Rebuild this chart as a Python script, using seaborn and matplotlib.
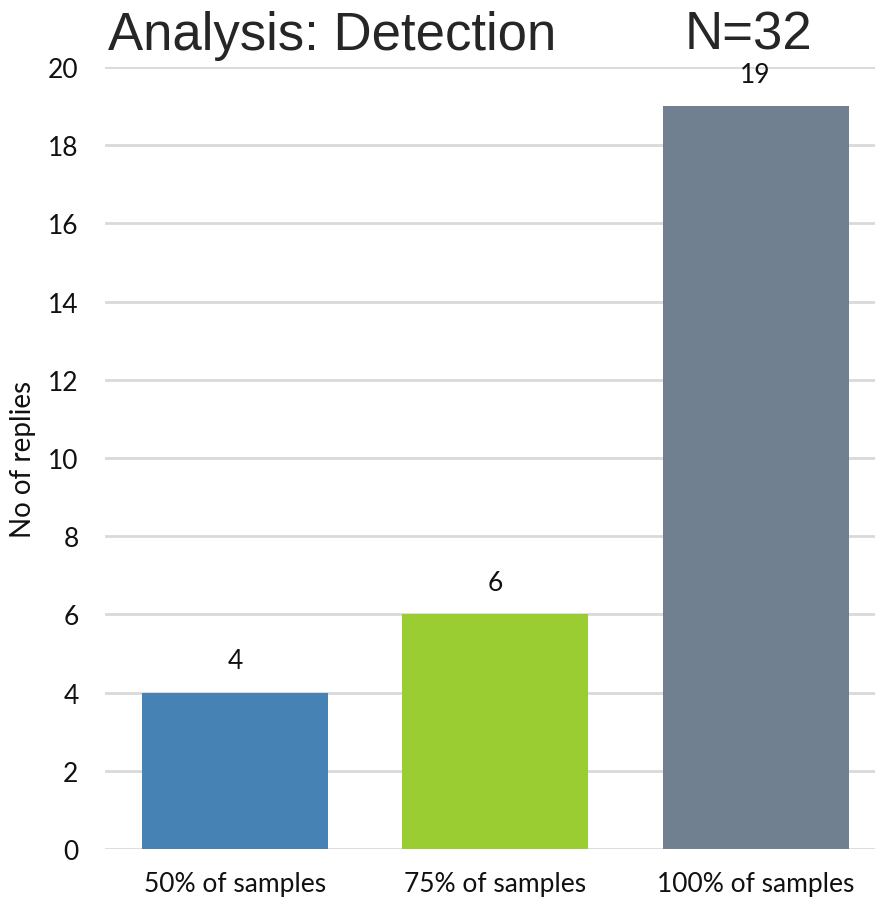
import pandas as pd
import seaborn as sns
import matplotlib.pyplot as plt

# Data
categories = ['50% of samples', '75% of samples', '100% of samples']
replies = [4, 6, 19]
bar_colors = ['#4682B4', '#9ACD32', '#708090']

df = pd.DataFrame({'category': categories, 'replies': replies})

sns.set_style('white')
plt.rcParams['font.family'] = ['Lato', 'DejaVu Sans']

fig = plt.figure(figsize=(8.77, 9.04), dpi=100)
ax = fig.add_axes([0.1197, 0.0597, 0.8783, 0.8651])

sns.barplot(data=df, x='category', y='replies', hue='category',
            palette=bar_colors, legend=False, width=0.715,
            saturation=1, linewidth=0, ax=ax, zorder=3)

# Value labels above bars
for i, v in enumerate(replies):
    ax.text(i, v + 0.5, str(v), ha='center', va='bottom', fontsize=19,
            color='#111111')

ax.set_ylim(0, 20)
ax.set_xlim(-0.5, 2.46)
ax.set_yticks(range(0, 21, 2))
ax.yaxis.grid(True, color='#d9d9d9', linewidth=2, zorder=0)
ax.set_axisbelow(True)
for s in ax.spines.values():
    s.set_visible(False)

ax.tick_params(axis='both', labelsize=19, length=0, colors='#111111')
ax.tick_params(axis='y', pad=19)
ax.tick_params(axis='x', pad=16)
ax.set_xlabel('')
ax.set_ylabel('No of replies', fontsize=20, color='#111111')
ax.yaxis.set_label_coords(-0.0896, 0.5)

# Title pieces
fig.text(0.123, 0.9447, 'Analysis: Detection', fontsize=38,
         family=['Liberation Sans'], color='#262626',
         va='baseline', ha='left')
fig.text(0.781, 0.9447, 'N=32', fontsize=38,
         family=['Liberation Sans'], color='#262626',
         va='baseline', ha='left')

fig.savefig('out.png', dpi=100)
